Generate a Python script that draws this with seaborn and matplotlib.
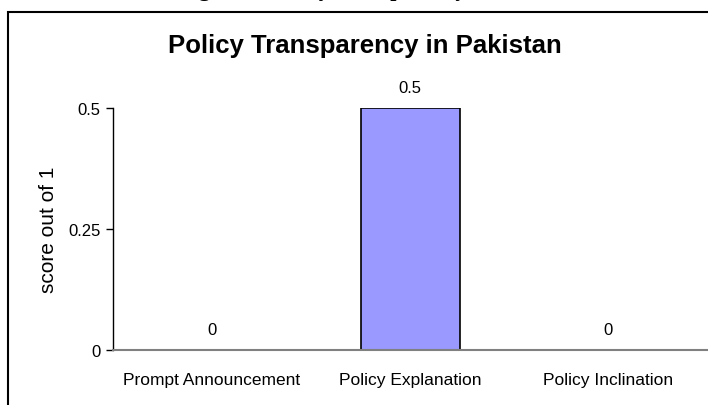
import matplotlib
matplotlib.use("Agg")
import matplotlib.pyplot as plt
import matplotlib.patches as patches
import seaborn as sns

categories = ["Prompt Announcement", "Policy Explanation", "Policy Inclination"]
scores = [0, 0.5, 0]
y_ticks = [0, 0.25, 0.5]
y_tick_labels = ["0", "0.25", "0.5"]

sns.set_style("white")
plt.rcParams["font.family"] = ["Liberation Sans", "DejaVu Sans"]
plt.rcParams["text.color"] = "black"
plt.rcParams["axes.labelcolor"] = "black"
plt.rcParams["xtick.color"] = "black"
plt.rcParams["ytick.color"] = "black"

fig = plt.figure(figsize=(7.08, 4.06), dpi=100)
ax = fig.add_axes([113 / 708, 1 - 351 / 406, 594 / 708, 242 / 406])

sns.barplot(x=categories, y=scores, color="#9999FF", edgecolor="black",
            linewidth=1.2, width=0.5, saturation=1, ax=ax)
ax.bar_label(ax.containers[0], labels=["0", "0.5", "0"], padding=9, fontsize=12)

ax.set_xlim(-0.5, 2.5)
ax.set_ylim(0, 0.5)
ax.set_yticks(y_ticks)
ax.set_yticklabels(y_tick_labels, fontsize=12)
ax.set_xticks(range(len(categories)))
ax.set_xticklabels(categories, fontsize=12.5)
ax.set_xticks([-0.5, 0.5, 1.5, 2.5], minor=True)
ax.tick_params(axis="x", which="major", length=0, pad=16)
ax.tick_params(axis="x", which="minor", length=5, width=1, color="#808080", direction="out")
ax.tick_params(axis="y", length=5, width=1, direction="out", left=True, pad=4)
ax.set_ylabel("score out of 1", fontsize=15, labelpad=7)
ax.set_xlabel("")

for s in ["top", "right"]:
    ax.spines[s].set_visible(False)
ax.spines["left"].set_color("black")
ax.spines["left"].set_linewidth(1)
ax.spines["bottom"].set_color("#808080")
ax.spines["bottom"].set_linewidth(1.5)

fig.text(0.515, 1 - 46 / 406, "Policy Transparency in Pakistan", ha="center", va="center",
         fontsize=18.5, fontweight="bold")

# caption above the chart frame, mostly cut off
fig.text(0.535, 1 + 4 / 406, "Figure 5: Policy Transparency in Pakistan", ha="center",
         va="baseline", fontsize=16, fontweight="bold", family="Liberation Serif")

frame = patches.Rectangle((8 / 708, -0.1), 1.2, 1 - 13 / 406 + 0.1, transform=fig.transFigure,
                          fill=False, edgecolor="black", linewidth=1.5)
fig.patches.append(frame)

fig.savefig("out.png", dpi=100)
